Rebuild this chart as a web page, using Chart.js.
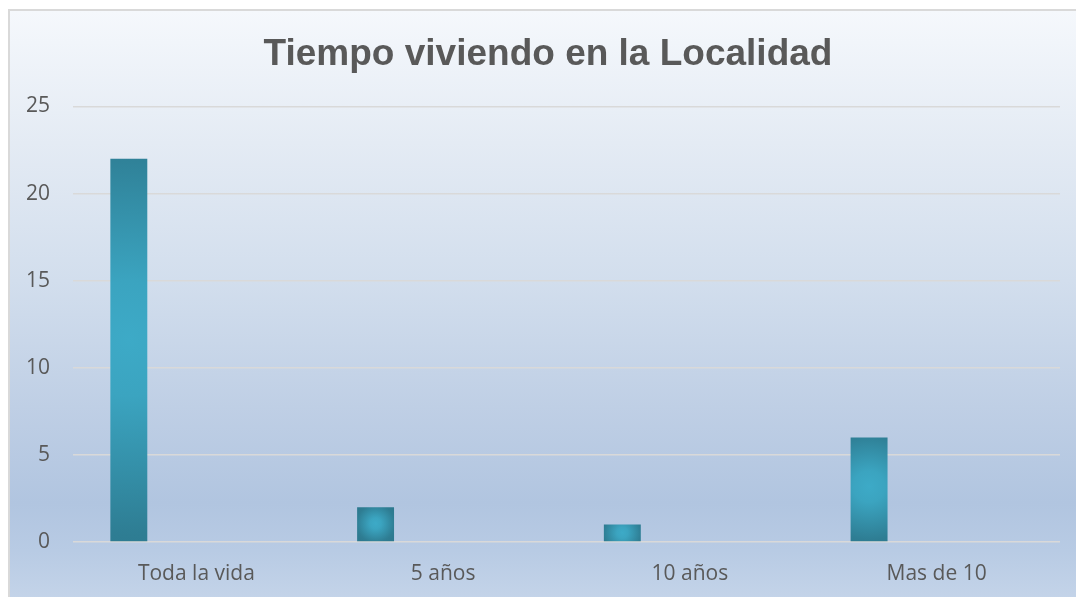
<!DOCTYPE html>
<html lang="es">
<head>
<meta charset="utf-8">
<title>Tiempo viviendo en la Localidad</title>
<script src="https://cdn.jsdelivr.net/npm/chart.js@4.4.1/dist/chart.umd.min.js"></script>
<style>
  html, body { margin: 0; padding: 0; background: #ffffff; overflow: hidden; }
  #panel {
    position: absolute;
    left: 8px;
    top: 9px;
    width: 1090px;
    height: 600px;
    border-left: 2px solid #d9d9d9;
    border-top: 2px solid #d9d9d9;
    background: linear-gradient(to bottom,
      #f5f8fc 0%, #e4ebf4 22%, #d2deed 45%, #bfcfe5 66%, #b1c5e0 82%, #b8cbe4 90%, #c7d6ea 100%);
  }
  #chart { display: block; }
</style>
</head>
<body>
<div id="panel">
  <canvas id="chart" width="1076" height="586"></canvas>
</div>
<script>
// Chart data
const categories = ['Toda la vida', '5 años', '10 años', 'Mas de 10'];
const values = [22, 2, 1, 6];
// the source sheet had 3 more (blank) series, which is why the bars sit left of each label
const blankSeries = [null, null, null, null];
const yTicks = [0, 5, 10, 15, 20, 25];

const textColor = '#595959';
const gridColor = '#d9d9d9';
const catPct = 0.73;
const barPct = 0.82;

/**
 * Light-centre teal shading for each bar (radial, like the Excel preset)
 */
function barFill(context) {
  const chart = context.chart;
  const xScale = chart.scales.x;
  const yScale = chart.scales.y;
  if (!xScale || !yScale || context.raw == null) return '#3393ad';
  const top = yScale.getPixelForValue(context.raw);
  const base = yScale.getPixelForValue(0);
  const catWidth = xScale.width / categories.length;
  const group = catWidth * catPct;
  const slot = group / datasets.length;
  const cx = xScale.getPixelForValue(context.dataIndex) - group / 2 + slot / 2;
  const w = slot * barPct;
  const h = base - top;
  if (!isFinite(cx) || !isFinite(h) || h <= 0) return '#3393ad';
  const cy = top + h * 0.47;
  const r = Math.max(h, w) * 0.6;
  const g = chart.ctx.createRadialGradient(cx, cy, 0, cx, cy, r);
  g.addColorStop(0, '#3daac7');
  g.addColorStop(0.25, '#3ba4c0');
  g.addColorStop(0.85, '#2e7d93');
  g.addColorStop(1, '#2d798f');
  return g;
}

const datasets = [
  { label: 'Serie 1', data: values, backgroundColor: barFill, borderWidth: 0 },
  { label: 'Serie 2', data: blankSeries },
  { label: 'Serie 3', data: blankSeries },
  { label: 'Serie 4', data: blankSeries }
];

const ctx = document.getElementById('chart').getContext('2d');

new Chart(ctx, {
  type: 'bar',
  data: { labels: categories, datasets: datasets },
  options: {
    responsive: false,
    animation: false,
    datasets: {
      bar: { categoryPercentage: catPct, barPercentage: barPct }
    },
    layout: { padding: 0 },
    scales: {
      x: {
        offset: true,
        grid: { display: false, drawTicks: false },
        border: { display: false },
        ticks: {
          color: textColor,
          padding: 19,
          font: { family: "'Open Sans', sans-serif", size: 21 }
        },
        afterFit: function(scale) { scale.height = 55; }
      },
      y: {
        min: 0,
        max: 25,
        afterBuildTicks: function(scale) {
          scale.ticks = yTicks.map(v => ({ value: v }));
        },
        grid: { color: gridColor, lineWidth: 1.5, drawTicks: false },
        border: { display: false },
        ticks: {
          color: textColor,
          padding: 23,
          font: { family: "'Open Sans', sans-serif", size: 21 }
        },
        afterFit: function(scale) { scale.width = 63; }
      },
      // empty strip on the right so the plot ends short of the panel edge
      yRight: {
        position: 'right',
        grid: { display: false, drawTicks: false },
        border: { display: false },
        ticks: { display: false },
        afterFit: function(scale) { scale.width = 26; }
      }
    },
    plugins: {
      legend: { display: false },
      tooltip: { enabled: false },
      title: {
        display: true,
        text: 'Tiempo viviendo en la Localidad',
        color: textColor,
        padding: { top: 22, bottom: 29 },
        font: { family: "'Liberation Sans', Arial, sans-serif", size: 37, weight: 'bold', lineHeight: 1.2 }
      }
    }
  }
});
</script>
</body>
</html>
